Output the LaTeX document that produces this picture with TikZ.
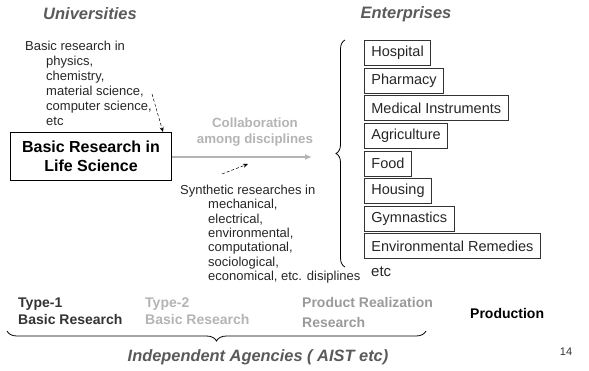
\documentclass[tikz,border=0pt]{standalone}
\usepackage{fontspec}
\setmainfont{Liberation Sans}
\usetikzlibrary{decorations.pathreplacing,arrows.meta}
\definecolor{titlegray}{HTML}{5A5A5A}
\definecolor{lightgray2}{HTML}{B4B4B4}
\definecolor{midgray}{HTML}{9A9A9A}
\definecolor{darktxt}{HTML}{333333}
\tikzset{
  title/.style={font=\fontsize{16.5}{19}\selectfont\bfseries\itshape, text=titlegray, inner sep=0},
  smalltxt/.style={font=\fontsize{13}{15}\selectfont, align=left, anchor=north west, inner sep=0, text=black!85},
  entbox/.style={draw=black!80, line width=0.8pt, anchor=west, minimum height=25pt, inner xsep=7pt, inner ysep=0pt, font=\fontsize{14.5}{17}\selectfont, text=black!85},
  mainbox/.style={draw=black, line width=1pt, minimum width=161pt, minimum height=48pt, align=center, font=\fontsize{16}{19}\selectfont\bfseries, inner sep=0},
  bottxt/.style={font=\fontsize{14}{17}\selectfont\bfseries, align=left, anchor=north west, inner sep=0},
  dasharrow/.style={densely dashed, line width=0.5pt, -{Stealth[length=5pt,width=4pt]}},
  bracestyle/.style={decorate, decoration={brace, amplitude=9pt}, line width=0.8pt}
}
\begin{document}
\begin{tikzpicture}[x=1pt,y=-1pt]
\useasboundingbox (0,0) rectangle (589,370);
% titles
\node[title] (univ) at (90,14) {Universities};
\node[title] (ent) at (406,14) {Enterprises};
% left text
\node[smalltxt] (basictext) at (25,41) {Basic research in\\\hspace*{21pt}physics,\\\hspace*{21pt}chemistry,\\\hspace*{21pt}material science,\\\hspace*{21pt}computer science,\\\hspace*{21pt}etc};
% main box
\node[mainbox] (lifesci) at (91,156) {Basic Research in\\Life Science};
\coordinate (d1s) at (152,94);
\coordinate (d1e) at (163,132);
\draw[dasharrow] (d1s) -- (d1e);
% collaboration arrow
\coordinate (arrend) at (312,157);
\draw[lightgray2, line width=1.5pt, -{Latex[length=7pt,width=6pt]}] (lifesci.east |- arrend) -- (arrend);
\node[font=\fontsize{13.3}{16}\selectfont\bfseries, text=lightgray2, align=center, inner sep=0] (collab) at (255,132) {Collaboration\\among disciplines};
% synthetic
\coordinate (d2s) at (222,174);
\coordinate (d2e) at (248,164);
\draw[dasharrow] (d2s) -- (d2e);
\node[smalltxt, font=\fontsize{13}{14.3}\selectfont] (synth) at (180,185) {Synthetic researches in\\\hspace*{28pt}mechanical,\\\hspace*{28pt}electrical,\\\hspace*{28pt}environmental,\\\hspace*{28pt}computational,\\\hspace*{28pt}sociological,\\\hspace*{28pt}economical, etc. disiplines};
% brace
\coordinate (brb) at (345,267);
\coordinate (brt) at (345,40);
\draw[bracestyle] (brb) -- (brt);
% enterprise boxes
\node[entbox] (hosp) at (364,53) {Hospital};
\node[entbox] (pharm) at (364,80.6) {Pharmacy};
\node[entbox] (med) at (364,108.2) {Medical Instruments};
\node[entbox] (agri) at (364,135.8) {Agriculture};
\node[entbox] (food) at (364,163.4) {Food};
\node[entbox] (hous) at (364,191) {Housing};
\node[entbox] (gym) at (364,218.6) {Gymnastics};
\node[entbox] (env) at (364,246.2) {Environmental Remedies};
\node[font=\fontsize{15}{17}\selectfont, anchor=west, inner sep=0, text=black!85] (etc) at (371,272) {etc};
% bottom
\node[bottxt, text=darktxt] (type1) at (18,297.5) {Type-1\\Basic Research};
\node[bottxt, text=lightgray2] (type2) at (145,297.5) {Type-2\\Basic Research};
\node[bottxt, text=midgray, font=\fontsize{14}{20}\selectfont\bfseries] (prr) at (302,297.5) {Product Realization\\Research};
\node[font=\fontsize{14}{17}\selectfont\bfseries, anchor=west, inner sep=0] (prod) at (470,313) {Production};
\coordinate (bbl) at (7,331);
\coordinate (bbr) at (426,331);
\draw[bracestyle, decoration={brace, amplitude=10pt, mirror}] (bbl) -- (bbr);
\node[font=\fontsize{16.4}{19}\selectfont\bfseries\itshape, text=titlegray, inner sep=0] (indep) at (258,357) {Independent Agencies ( AIST etc)};
\node[font=\fontsize{11}{13}\selectfont, text=black!80, inner sep=0] (pg) at (566,352) {14};
\end{tikzpicture}
\end{document}
